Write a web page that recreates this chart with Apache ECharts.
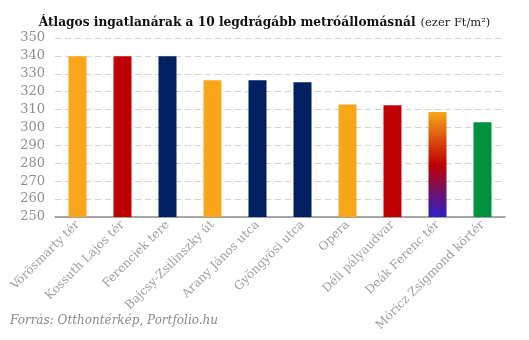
<!DOCTYPE html>
<html>
<head>
<meta charset="utf-8">
<script src="https://cdn.jsdelivr.net/npm/echarts@6/dist/echarts.min.js"></script>
<style>
  html, body { margin: 0; padding: 0; background: #fff; }
  #chart { width: 529px; height: 340px; }
</style>
</head>
<body>
<div id="chart"></div>
<script>
// Average property prices near the 10 most expensive metro stations (thousand Ft/m²)
const stations = [
  'Vörösmarty tér', 'Kossuth Lajos tér', 'Ferenciek tere', 'Bajcsy-Zsilinszky út',
  'Arany János utca', 'Gyöngyösi utca', 'Opera', 'Déli pályaudvar',
  'Deák Ferenc tér', 'Móricz Zsigmond körtér'
];
const prices = [339.8, 339.8, 339.8, 326.4, 326.4, 325.3, 312.9, 312.5, 308.6, 302.9];
const yTicks = [250, 260, 270, 280, 290, 300, 310, 320, 330, 340, 350];

// Metro line colours per station (M1 yellow, M2 red, M3 blue, M4 green)
const ORANGE = '#F9A61A', RED = '#C00000', NAVY = '#002060', GREEN = '#00923F';
const deakGradient = new echarts.graphic.LinearGradient(0, 0, 0, 1, [
  { offset: 0, color: '#F9A61A' },
  { offset: 0.5, color: '#C00000' },
  { offset: 1, color: '#2A1FC8' }
]);
const barColors = [ORANGE, RED, NAVY, ORANGE, NAVY, NAVY, ORANGE, RED, deakGradient, GREEN];

const serif = "'DejaVu Serif', 'Liberation Serif', serif";
const chart = echarts.init(document.getElementById('chart'), null, { renderer: 'canvas' });

chart.setOption({
  animation: false,
  backgroundColor: '#fff',
  title: {
    text: '{b|Átlagos ingatlanárak a 10 legdrágább metróállomásnál} {n|(ezer Ft/m²)}',
    left: 'center',
    top: 9,
    textStyle: {
      rich: {
        b: { fontFamily: serif, fontWeight: 'bold', fontSize: 12.2, color: '#111' },
        n: { fontFamily: serif, fontWeight: 'normal', fontSize: 11.5, color: '#222' }
      }
    }
  },
  graphic: [{
    type: 'text',
    left: 10,
    top: 315,
    style: {
      text: 'Forrás: Otthontérkép, Portfolio.hu',
      font: "italic 12px 'DejaVu Serif', 'Liberation Serif', serif",
      fill: '#8a8a8a'
    }
  }],
  grid: { left: 55, right: 24, top: 38, bottom: 123, containLabel: false },
  xAxis: {
    type: 'category',
    data: stations,
    axisLine: { lineStyle: { color: '#8c8c8c', width: 1.5 } },
    axisTick: { show: false },
    axisLabel: {
      rotate: 45,
      interval: 0,
      margin: 6,
      color: '#a0a0a0',
      fontFamily: serif,
      fontSize: 12
    }
  },
  yAxis: {
    type: 'value',
    min: yTicks[0],
    max: yTicks[yTicks.length - 1],
    interval: 10,
    axisLine: { show: false },
    axisTick: { show: false },
    axisLabel: { color: '#8f8f8f', fontFamily: serif, fontSize: 13, margin: 10 },
    splitLine: { lineStyle: { color: '#d4d4d4', type: [6, 4], width: 1 } }
  },
  series: [{
    type: 'bar',
    data: prices.map((v, i) => ({ value: v, itemStyle: { color: barColors[i] } })),
    barWidth: 18
  }]
});
</script>
</body>
</html>
